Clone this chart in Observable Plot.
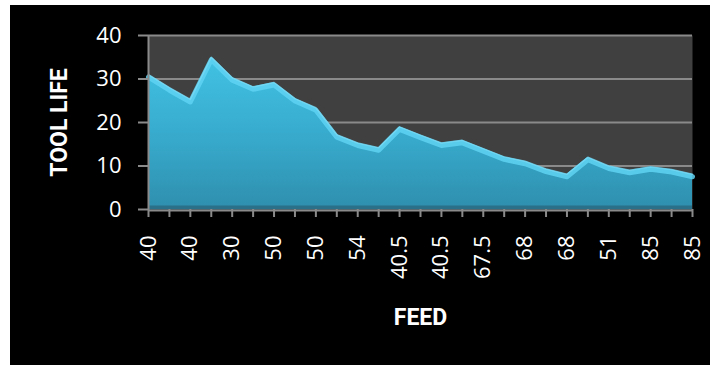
<!DOCTYPE html>
<html>
<head>
<meta charset="utf-8">
<script src="https://cdn.jsdelivr.net/npm/d3@7"></script>
<script src="https://cdn.jsdelivr.net/npm/@observablehq/plot@0.6"></script>
<style>
  html, body { margin: 0; padding: 0; background: #ffffff; }
  #wrap { position: absolute; left: 10px; top: 5px; width: 700px; height: 360px; background: #000; overflow: hidden; }
</style>
</head>
<body>
<div id="wrap"></div>
<script>
// Feed labels shown under every other category (27 points, labels on even ones)
const feedLabels = ["40", "40", "30", "50", "50", "54", "40.5", "40.5", "67.5", "68", "68", "51", "85", "85"];
// Tool life values per observation
const toolLife = [31, 28, 25.3, 35, 30.3, 28.2, 29.2, 25.5, 23.4, 17.2, 15.3, 14.2, 19, 17.1, 15.3, 15.9, 14, 12.1, 11.1, 9.3, 8.1, 12, 10, 9, 9.8, 9.2, 8.1];
const yTicks = [0, 10, 20, 30, 40];
const yTitle = "TOOL LIFE";
const xTitle = "FEED";

const data = toolLife.map((v, i) => ({i, v}));
const gray = "#8a8a8a";
const titleFont = "Roboto, 'Liberation Sans Narrow', sans-serif";

const defs = () => {
  const d = d3.create("svg:defs");
  const g = d.append("linearGradient").attr("id", "areaGrad")
    .attr("x1", 0).attr("y1", 0).attr("x2", 0).attr("y2", 1);
  g.append("stop").attr("offset", "0%").attr("stop-color", "#41c2e4");
  g.append("stop").attr("offset", "55%").attr("stop-color", "#37a9cb");
  g.append("stop").attr("offset", "100%").attr("stop-color", "#2f8fae");
  return d.node();
};

const chart = Plot.plot({
  width: 700,
  height: 360,
  marginLeft: 138,
  marginRight: 18,
  marginTop: 30,
  marginBottom: 156,
  style: {background: "#000", color: "white", fontFamily: "'Open Sans', sans-serif", overflow: "visible"},
  x: {type: "linear", domain: [0, toolLife.length - 1]},
  y: {domain: [0, 40]},
  marks: [
    defs,
    Plot.frame({fill: "#404040", stroke: null}),
    Plot.gridY(yTicks.slice(1), {stroke: gray, strokeOpacity: 1, strokeWidth: 2}),
    Plot.areaY(data, {x: "i", y: "v", fill: "url(#areaGrad)"}),
    Plot.lineY(data, {x: "i", y: "v", stroke: "#5fd2f2", strokeWidth: 5, strokeOpacity: 0.85, dy: 2.5}),
    Plot.lineY(data, {x: "i", y: "v", stroke: "#7ddcf5", strokeWidth: 1.5, strokeOpacity: 0.7}),
    Plot.ruleY([0], {stroke: "#2a7088", strokeWidth: 4, dy: -2}),
    Plot.ruleY([0], {stroke: gray, strokeWidth: 2, dy: 1}),
    Plot.ruleX([0], {stroke: gray, strokeWidth: 2}),
    Plot.axisY({ticks: yTicks, tickSize: 10, tickPadding: 17, stroke: gray, strokeWidth: 2, fill: "white", fontSize: 22, label: null}),
    Plot.axisX({ticks: d3.range(toolLife.length), tickFormat: i => (i % 2 ? "" : feedLabels[i / 2]),
      tickRotate: -90, tickSize: 8, tickPadding: 18, stroke: gray, strokeWidth: 2, fill: "white", fontSize: 22, label: null}),
    Plot.text([yTitle], {x: () => 0, y: () => 20, dx: -89, rotate: -90, fill: "white", fontSize: 23, fontWeight: "bold",
      fontFamily: titleFont, text: d => d}),
    Plot.text([xTitle], {x: () => (toolLife.length - 1) / 2, y: () => 0, dy: 108, fill: "white", fontSize: 23, fontWeight: "bold",
      fontFamily: titleFont, text: d => d})
  ]
});
document.getElementById("wrap").appendChild(chart);
</script>
</body>
</html>
